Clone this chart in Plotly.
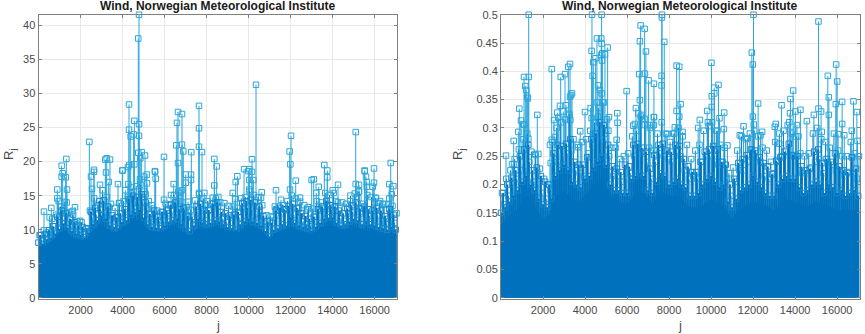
import plotly.graph_objects as go

# ---------- text / ticks ----------
title_text = "Wind, Norwegian Meteorological Institute"
x_ticks = [2000, 4000, 6000, 8000, 10000, 12000, 14000, 16000]
x_labels = ["2000", "4000", "6000", "8000", "10000", "12000", "14000", "16000"]
left_y_ticks = [0, 5, 10, 15, 20, 25, 30, 35, 40]
right_y_ticks = [0, 0.05, 0.1, 0.15, 0.2, 0.25, 0.3, 0.35, 0.4, 0.45, 0.5]
right_y_labels = ["0", "0.05", "0.1", "0.15", "0.2", "0.25", "0.3", "0.35", "0.4", "0.45", "0.5"]

# ---------- dense body ----------
core_j = [0, 500, 800, 1000, 1300, 1600, 2000, 2400, 2600, 3000, 3400, 3700, 4000, 4500, 4800, 5200, 5600, 6000,
          6400, 6800, 7200, 7600, 8000, 8400, 9000, 9500, 10000, 10500, 11000, 11300, 12000, 12500, 13000, 13500,
          14000, 14500, 15000, 15500, 16000, 16500, 17050]
left_core = [7.4, 8.0, 8.8, 9.6, 9.9, 8.8, 8.4, 8.8, 10, 10.8, 9.8, 9.6, 10.2, 11.4, 11.6, 10, 9.7, 9.8, 10.6,
             9.8, 9, 10.2, 10, 10.4, 10, 9.6, 10.4, 10.2, 8.6, 9.6, 10.4, 9.8, 9.4, 10.4, 10.6, 10, 10.4,
             10, 9.8, 9.4, 9.4]
right_core = [0.13, 0.15, 0.155, 0.175, 0.18, 0.16, 0.14, 0.15, 0.18, 0.19, 0.175, 0.17, 0.18, 0.205, 0.21, 0.18, 0.17,
              0.165, 0.185, 0.185, 0.165, 0.19, 0.18, 0.18, 0.16, 0.16, 0.175, 0.165, 0.14, 0.155, 0.17, 0.165, 0.155, 0.175,
              0.17, 0.16, 0.17, 0.165, 0.155, 0.155, 0.155]

fringe_j = [0, 100, 200, 300, 400, 500, 600, 700, 800, 900, 1000, 1100, 1200, 1300, 1400, 1500, 1600, 1700, 1800, 1900,
            2000, 2100, 2200, 2300, 2400, 2500, 2600, 2700, 2800, 2900, 3000, 3100, 3200, 3300, 3400, 3500, 3600, 3700, 3800, 3900,
            4000, 4100, 4200, 4300, 4400, 4500, 4600, 4700, 4800, 4900, 5000, 5100, 5200, 5300, 5400, 5500, 5600, 5700, 5800, 5900,
            6000, 6100, 6200, 6300, 6400, 6500, 6600, 6700, 6800, 6900, 7000, 7100, 7200, 7300, 7400, 7500, 7600, 7700, 7800, 7900,
            8000, 8100, 8200, 8300, 8400, 8500, 8600, 8700, 8800, 8900, 9000, 9100, 9200, 9300, 9400, 9500, 9600, 9700, 9800, 9900,
            10000, 10100, 10200, 10300, 10400, 10500, 10600, 10700, 10800, 10900, 11000, 11100, 11200, 11300, 11400, 11500, 11600, 11700, 11800, 11900,
            12000, 12100, 12200, 12300, 12400, 12500, 12600, 12700, 12800, 12900, 13000, 13100, 13200, 13300, 13400, 13500, 13600, 13700, 13800, 13900,
            14000, 14100, 14200, 14300, 14400, 14500, 14600, 14700, 14800, 14900, 15000, 15100, 15200, 15300, 15400, 15500, 15600, 15700, 15800, 15900,
            16000, 16100, 16200, 16300, 16400, 16500, 16600, 16700, 16800, 16900, 17000]
left_fringe = [8.1, 9.2, 7.9, 9.3, 8.6, 9.9, 8.8, 10.5, 9.4, 11.9, 10.1, 12.8, 10.9, 12.4, 10.2, 11.6, 9.8, 11.1, 9.4, 10.6,
               9.2, 10.4, 8.9, 10.2, 9.6, 12.6, 10.8, 13.2, 11.4, 14.2, 12.1, 14.3, 11.6, 13.4, 10.6, 12.1, 10.4, 11.8, 10.2, 12.4,
               11.1, 13, 11.4, 14.5, 12.2, 15, 12.6, 14.8, 12.9, 15.2, 11.8, 14, 10.8, 12.3, 10.4, 12.8, 10.3, 11.9, 10.2, 12.6,
               10.6, 12.8, 11.2, 13.7, 11.4, 14, 11.6, 13, 10.8, 13.2, 10.2, 12, 9.8, 11.9, 10.6, 13.4, 11.6, 13.8, 11, 12.8,
               10.8, 12.9, 11, 13.8, 11.4, 14, 11.2, 12.6, 10.8, 12.4, 10.4, 12.1, 10.2, 12.2, 10, 12.6, 10.8, 13.9, 11.2, 14.2,
               11.6, 14.4, 11.2, 14, 11, 13.4, 10.6, 12, 9.8, 11.2, 9, 11, 10, 12.8, 10.2, 13.2, 10.8, 13, 10.6, 13.5,
               11.8, 13.8, 11, 13.2, 10.6, 12.4, 10.4, 12, 10.2, 11.6, 9.8, 11.9, 10.4, 13, 11, 13.4, 11.6, 14.2, 11.8, 13.6,
               11.8, 13.4, 11, 12.8, 10.6, 12.4, 10.8, 13.1, 11.2, 13.6, 11.6, 14, 11.4, 13.1, 10.8, 13.4, 11.2, 13, 10.8, 12.8,
               10.6, 13.2, 10.4, 12.8, 10.2, 12, 10, 13, 10.4, 12.2, 10]
right_fringe = [0.15, 0.185, 0.16, 0.2, 0.17, 0.212, 0.18, 0.225, 0.19, 0.25, 0.205, 0.262, 0.215, 0.27, 0.2, 0.225, 0.19, 0.23, 0.175, 0.215,
                0.165, 0.205, 0.16, 0.2, 0.175, 0.255, 0.215, 0.27, 0.225, 0.268, 0.235, 0.272, 0.225, 0.28, 0.205, 0.24, 0.2, 0.235, 0.195, 0.235,
                0.21, 0.248, 0.215, 0.28, 0.23, 0.29, 0.24, 0.31, 0.25, 0.305, 0.235, 0.27, 0.2, 0.232, 0.19, 0.228, 0.19, 0.222, 0.185, 0.235,
                0.185, 0.232, 0.21, 0.27, 0.215, 0.272, 0.22, 0.265, 0.215, 0.258, 0.19, 0.228, 0.185, 0.252, 0.205, 0.27, 0.22, 0.272, 0.215, 0.26,
                0.2, 0.258, 0.205, 0.27, 0.21, 0.268, 0.2, 0.245, 0.195, 0.232, 0.18, 0.222, 0.18, 0.222, 0.185, 0.24, 0.2, 0.258, 0.21, 0.262,
                0.215, 0.268, 0.205, 0.262, 0.195, 0.24, 0.2, 0.235, 0.17, 0.2, 0.16, 0.21, 0.175, 0.238, 0.19, 0.245, 0.195, 0.252, 0.2, 0.262,
                0.215, 0.26, 0.205, 0.248, 0.195, 0.238, 0.185, 0.232, 0.18, 0.218, 0.18, 0.242, 0.2, 0.248, 0.21, 0.258, 0.215, 0.272, 0.21, 0.252,
                0.21, 0.25, 0.195, 0.232, 0.185, 0.225, 0.19, 0.228, 0.2, 0.258, 0.205, 0.262, 0.2, 0.238, 0.185, 0.245, 0.2, 0.24, 0.195, 0.255,
                0.185, 0.232, 0.19, 0.225, 0.18, 0.222, 0.185, 0.248, 0.19, 0.228, 0.18]

# upper band of thin stems, halfway between the fringe positions
band_j = [j + 50 for j in fringe_j[:-1]]
left_band = [9.2, 8.4, 9.9, 8.2, 9.6, 9.4, 11.6, 9.9, 12.2, 10.3, 13.4, 11, 14.1, 12.5, 12.6, 10.6, 12.2, 10.8, 11.2, 9.8,
             11.1, 9.4, 10.1, 9.8, 12.8, 11.8, 14.6, 12.2, 13.6, 13, 15.8, 12.4, 14.8, 13.2, 13.8, 11.6, 13.2, 11.8, 13.9, 11.1,
             14.2, 12.6, 14.8, 13.9, 16.2, 13.2, 16.4, 13.8, 16.6, 14, 15.6, 13.1, 14.2, 11.6, 13.1, 11.9, 12.8, 11.3, 12.6, 11.2,
             13.8, 12.4, 13.6, 12.7, 15.1, 12.3, 15.6, 12.8, 14, 12.9, 13.3, 11.8, 12.9, 11.6, 14.3, 12.8, 15.2, 12.4, 14.6, 11.4,
             14.2, 12.8, 13.9, 13.2, 14.6, 13.4, 14, 11.6, 13.9, 11.1, 13.5, 11.8, 13.4, 12.2, 13.2, 11.8, 14.6, 13.1, 14.8, 13.2,
             15.6, 12.9, 15.1, 12.3, 14.8, 12.1, 13.6, 10.9, 12.1, 10.6, 12, 11.8, 13.4, 12.1, 13.4, 12.4, 13.6, 12.9, 14.2, 12.8,
             15, 12.2, 14.6, 11.8, 14.1, 11.2, 13.6, 10.8, 13.3, 10.5, 13.1, 11.9, 14.2, 12.8, 14, 13.1, 15.4, 13.8, 15.1, 12.9,
             15.4, 12.6, 14, 11.7, 14, 11.3, 13.8, 12.4, 15, 12.6, 15.3, 12.7, 15.6, 12.4, 13.8, 12.6, 15.1, 12, 14.8, 11.9,
             14.7, 12.1, 13.9, 11.3, 13.8, 10.9, 13.7, 12.4, 13.5, 11]
right_band = [0.185, 0.165, 0.21, 0.18, 0.225, 0.2, 0.245, 0.21, 0.262, 0.225, 0.28, 0.23, 0.29, 0.24, 0.258, 0.205, 0.252, 0.2, 0.228, 0.185,
              0.21, 0.175, 0.2, 0.19, 0.275, 0.24, 0.3, 0.24, 0.31, 0.25, 0.315, 0.255, 0.325, 0.26, 0.28, 0.225, 0.27, 0.22, 0.275, 0.215,
              0.28, 0.255, 0.295, 0.27, 0.31, 0.29, 0.335, 0.28, 0.345, 0.28, 0.315, 0.25, 0.265, 0.215, 0.265, 0.215, 0.245, 0.205, 0.25, 0.21,
              0.255, 0.22, 0.285, 0.25, 0.295, 0.26, 0.32, 0.255, 0.305, 0.24, 0.265, 0.21, 0.26, 0.24, 0.29, 0.255, 0.31, 0.25, 0.29, 0.245,
              0.275, 0.24, 0.29, 0.26, 0.3, 0.25, 0.285, 0.225, 0.27, 0.21, 0.245, 0.215, 0.26, 0.21, 0.27, 0.24, 0.295, 0.25, 0.31, 0.25,
              0.31, 0.25, 0.295, 0.235, 0.27, 0.24, 0.265, 0.21, 0.22, 0.18, 0.23, 0.205, 0.26, 0.225, 0.285, 0.225, 0.28, 0.24, 0.29, 0.26,
              0.295, 0.255, 0.285, 0.24, 0.265, 0.215, 0.26, 0.21, 0.24, 0.22, 0.275, 0.24, 0.29, 0.25, 0.295, 0.26, 0.305, 0.25, 0.29, 0.25,
              0.285, 0.225, 0.255, 0.22, 0.25, 0.22, 0.255, 0.23, 0.29, 0.24, 0.3, 0.245, 0.28, 0.22, 0.275, 0.24, 0.265, 0.235, 0.29, 0.225,
              0.26, 0.225, 0.25, 0.215, 0.25, 0.22, 0.275, 0.22, 0.255, 0.21]

# ---------- individually read peaks, left panel ----------
left_peak_j = [4784, 4750, 4308, 4562, 4308, 4388, 4530, 4784, 4784, 4750, 4910, 5070, 4845, 2420, 1325, 1103, 3246, 3403, 3180, 5974,
               6640, 6830, 6592, 6560, 6830, 6893, 6640, 7275, 7640, 7640, 7640, 7783, 8370, 8480, 4324, 4562, 4260, 2640, 3990, 5545,
               10354, 10163, 9784, 10035, 12020, 11955, 11988, 13605, 15100, 15527, 15970, 16765,
               262, 610, 532, 895, 895, 1150, 1100, 1293, 1357, 1340, 960, 1628, 1737, 1975, 2499, 2640, 2547, 2927, 3213, 3340,
               3784, 3832, 4007, 4276, 4133, 4434, 4830, 5150, 5040, 5163, 5100, 5545, 5578, 5385, 5974, 5900, 6307, 6435, 6735, 6830,
               7007, 7007, 7260, 7260, 6655, 7116, 7640, 7892, 7958, 8370, 8292, 8560,
               9465, 9386, 9244, 9355, 9988, 10163, 10035, 10035, 10226, 10624, 10592, 11020, 11306, 11544, 11306, 11971, 12242, 12448, 12400, 12814,
               13004, 13100, 13340, 13224, 13747, 14256, 14003, 14146, 13747, 14830, 15100, 15257, 15257, 15225, 15527, 15622, 15622, 15970, 15590,
               15908, 16066, 16257, 16384, 16574, 16700, 16889, 16700, 16813, 17040]
left_peak_R = [41.6, 38.1, 28.4, 26, 24.7, 23.7, 24, 25.5, 23.8, 21.3, 21.4, 20.9, 20.5, 22.9, 20.4, 19.4, 20.5, 20.3, 20.3, 20.7,
               27.3, 27, 25.7, 22.4, 22.5, 21.5, 19.8, 21.4, 28.2, 24.9, 22.2, 21.4, 20.4, 19.3, 19.5, 19.6, 19.2, 18.8, 18.7, 18.6,
               31.3, 20.35, 18.9, 18.9, 23.8, 21.5, 19.6, 19.5, 24.35, 18.7, 19, 19.8,
               12.65, 13.2, 11.8, 14.6, 15.9, 18.3, 17.8, 17.7, 15.9, 14, 14.2, 12.75, 13.3, 11.3, 17.8, 18.5, 16, 16.6, 18.4, 17,
               16.7, 13.9, 18.7, 16.7, 15.8, 15.5, 17.4, 18.1, 17.8, 16.8, 15.2, 18.5, 17.5, 13.6, 14.4, 12.2, 15.1, 16.7, 15.4, 15.8,
               18.1, 16.9, 18.1, 17.3, 14.2, 14.1, 15.4, 15.4, 13.6, 16.5, 14.7, 14.8,
               17.85, 17, 15.4, 14.5, 18.6, 18.5, 17.3, 15.9, 17.3, 15.5, 14.7, 11.3, 15.8, 14.4, 13, 15.9, 17.2, 14.7, 13.1, 13,
               17.3, 17.4, 16.3, 15.4, 17.7, 16.6, 15.8, 14.2, 18.7, 14.2, 16.7, 16.6, 15.6, 14.6, 18.6, 17, 16.3, 16.9, 17.8,
               16.3, 14.6, 14.2, 13.7, 11.6, 16.7, 16.4, 14.6, 15.2, 12.4]

# ---------- individually read peaks, right panel ----------
right_peak_j = [1318, 1095, 1318, 1157, 1205, 1252, 1280, 871, 1728, 952, 1062, 1110, 824, 1300, 604, 238, 524, 619, 1619, 1776,
                2414, 2842, 3047, 3205, 3286, 3381, 3334, 3286, 2808, 3095, 2522, 2680, 2728, 2966, 3252, 3300, 2414, 2332, 2570, 2367, 3773, 3998, 3665,
                4330, 4790, 4314, 4394, 4505, 4567, 4775, 4790, 5075, 4822, 4950, 4775, 4806, 4362, 4615, 4710, 4790, 4902, 4567, 4266, 4615, 5140,
                4950, 5110, 4314, 5535, 5550, 5981, 5505,
                6647, 6838, 6613, 6899, 6581, 6851, 7026, 7280, 6613, 6423, 6534, 6693, 6851, 7280, 6295, 6375, 7263, 7090,
                7660, 7660, 7772, 7645, 7645, 7280, 7090, 7250, 8360, 8486, 8551, 8360, 8486, 8275, 8640, 7910, 8196,
                10020, 10150, 10353, 10035, 10150, 10035, 9815, 10625, 10400, 9465, 9385, 9880, 10610, 10305, 10780,
                12020, 11940, 11987, 12240, 11990, 12035, 12430, 12353, 11545, 11368, 11730,
                13355, 13034, 13080, 13780, 13907, 14017, 14255, 13757, 13725, 14090, 13907, 14160, 13250, 14560, 14895,
                15114, 15114, 15238, 15270, 15558, 15955, 16003, 15606, 15606, 15940, 16240, 16240, 16780, 16940, 16700, 16340, 16050, 16970, 17040]
right_peak_R = [0.5, 0.39, 0.39, 0.374, 0.367, 0.355, 0.352, 0.334, 0.323, 0.313, 0.306, 0.306, 0.293, 0.281, 0.277, 0.251, 0.236, 0.236, 0.254, 0.254,
                0.404, 0.39, 0.395, 0.408, 0.413, 0.361, 0.358, 0.355, 0.339, 0.34, 0.314, 0.327, 0.318, 0.329, 0.323, 0.314, 0.279, 0.27, 0.284, 0.238, 0.294, 0.328, 0.266,
                0.5, 0.5, 0.436, 0.416, 0.423, 0.458, 0.458, 0.449, 0.442, 0.432, 0.43, 0.429, 0.419, 0.392, 0.375, 0.367, 0.361, 0.345, 0.345, 0.335, 0.32, 0.319,
                0.296, 0.295, 0.317, 0.326, 0.309, 0.365, 0.279,
                0.481, 0.475, 0.453, 0.435, 0.395, 0.396, 0.384, 0.378, 0.349, 0.335, 0.326, 0.323, 0.316, 0.319, 0.304, 0.307, 0.305, 0.3,
                0.5, 0.495, 0.452, 0.392, 0.375, 0.319, 0.305, 0.305, 0.41, 0.408, 0.342, 0.33, 0.32, 0.301, 0.293, 0.289, 0.29,
                0.415, 0.371, 0.376, 0.356, 0.361, 0.337, 0.33, 0.327, 0.317, 0.314, 0.3, 0.303, 0.298, 0.295, 0.269,
                0.5, 0.433, 0.412, 0.343, 0.32, 0.306, 0.293, 0.287, 0.303, 0.287, 0.282,
                0.34, 0.302, 0.307, 0.351, 0.366, 0.329, 0.332, 0.326, 0.31, 0.305, 0.293, 0.285, 0.272, 0.312, 0.323,
                0.488, 0.334, 0.329, 0.293, 0.392, 0.412, 0.382, 0.354, 0.323, 0.342, 0.346, 0.307, 0.347, 0.328, 0.295, 0.287, 0.289, 0.277, 0.25]

# ---------- style ----------
BODY = "#0072BD"
STEM = "#2BA6DC"
FONT = "Liberation Sans"
TICK_COLOR = "#4a4a4a"
W, H = 865, 334


def add_panel(fig, n, core_y, band_y, fringe_y, peak_j, peak_y):
    xa, ya = f"x{n}", f"y{n}"

    def stems(xs, ys, stem_color, thickness, mark_color):
        fig.add_trace(go.Scatter(x=xs, y=ys, xaxis=xa, yaxis=ya, mode="markers", cliponaxis=False,
                                 marker=dict(symbol="square-open", size=5.5, color=mark_color, line=dict(width=1, color=mark_color)),
                                 error_y=dict(type="data", symmetric=False, array=[0] * len(ys), arrayminus=ys,
                                              color=stem_color, thickness=thickness, width=0),
                                 showlegend=False))

    stems(peak_j, peak_y, STEM, 1, STEM)
    stems(band_j, band_y, "#0A7FC6", 1, STEM)
    stems(fringe_j, fringe_y, BODY, 1.9, "#1488CE")
    fig.add_trace(go.Scatter(x=core_j, y=core_y, xaxis=xa, yaxis=ya, mode="lines", line=dict(width=0, color=BODY),
                             fill="tozeroy", fillcolor=BODY, showlegend=False, hoverinfo="skip"))


fig = go.Figure()
add_panel(fig, "", left_core, left_band, left_fringe, left_peak_j, left_peak_R)
add_panel(fig, "2", right_core, right_band, right_fringe, right_peak_j, right_peak_R)


def axis(**kw):
    return dict(showgrid=True, gridcolor="#e9e9e9", gridwidth=1, zeroline=False, showline=True, linecolor="#808080",
                linewidth=1, mirror="ticks", ticks="inside", ticklen=3, tickcolor="#808080", automargin=False,
                tickfont=dict(family=FONT, size=11, color=TICK_COLOR), **kw)


L_X0, L_X1 = 38.5, 396.7
R_X0, R_X1 = 501, 860
Y_T, Y_B = 14.7, 299.3

fig.update_layout(
    width=W, height=H, autosize=False, margin=dict(l=0, r=0, t=0, b=0),
    plot_bgcolor="white", paper_bgcolor="white", showlegend=False,
    xaxis=axis(domain=[L_X0 / W, L_X1 / W], range=[0, 17050], tickvals=x_ticks, ticktext=x_labels, anchor="y"),
    yaxis=axis(domain=[1 - Y_B / H, 1 - Y_T / H], range=[-0.235, 41.6], tickvals=left_y_ticks, anchor="x"),
    xaxis2=axis(domain=[R_X0 / W, R_X1 / W], range=[0, 17090], tickvals=x_ticks, ticktext=x_labels, anchor="y2"),
    yaxis2=axis(domain=[1 - Y_B / H, 1 - Y_T / H], range=[-0.0028, 0.5], tickvals=right_y_ticks,
                ticktext=right_y_labels, anchor="x2"),
)


def note(text, px, py, size=12, color=TICK_COLOR, bold=False, angle=0):
    fig.add_annotation(text=f"<b>{text}</b>" if bold else text, x=px / W, y=1 - py / H, xref="paper", yref="paper",
                       showarrow=False, xanchor="center", yanchor="middle", textangle=angle,
                       font=dict(family=FONT, size=size, color=color))


note(title_text, 217.5, 6, size=12, color="#1a1a1a", bold=True)
note(title_text, 680, 6, size=12, color="#1a1a1a", bold=True)
note("j", 217.5, 325, size=13)
note("j", 680, 325, size=13)
note("R<sub>j</sub>", 10, 155, size=13, angle=-90)
note("R<sub>j</sub>", 459, 155, size=13, angle=-90)

fig.write_html("out.html", config={"displayModeBar": False},
               post_script="document.body.style.margin='0';document.documentElement.style.overflow='hidden';")
